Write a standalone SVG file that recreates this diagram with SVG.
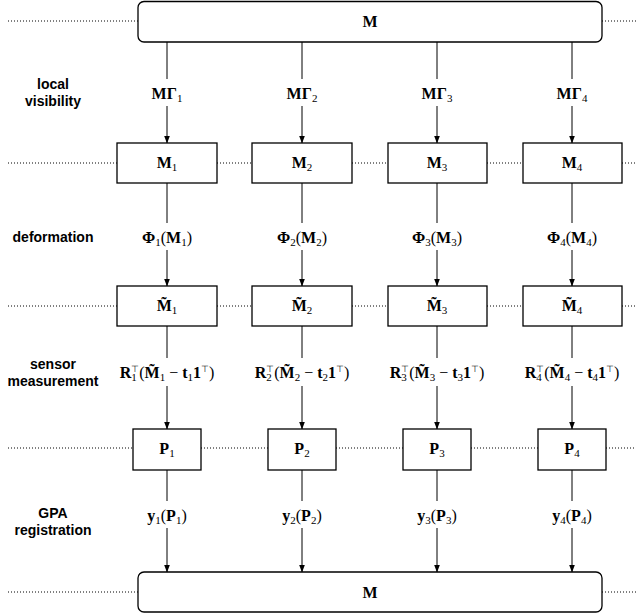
<svg xmlns="http://www.w3.org/2000/svg" width="636" height="616" viewBox="0 0 636 616">
<style>
.box{fill:#fff;stroke:#000;stroke-width:1.3}
.dot{stroke:#000;stroke-width:1;stroke-dasharray:1 2;fill:none}
.con{stroke:#000;stroke-width:1;fill:none;marker-end:url(#arr)}
.bg{fill:#fff}
.m{font-family:"Liberation Serif","Times New Roman",serif;font-size:16px;fill:#000;text-anchor:middle}
.b{font-weight:bold}
.s{font-size:11px}
.u{font-size:9px}
.lab{font-family:"Liberation Sans",Arial,sans-serif;font-size:14px;font-weight:bold;fill:#000;text-anchor:middle}
</style>
<defs>
<marker id="arr" viewBox="0 0 8 8" refX="7.5" refY="4" markerWidth="8" markerHeight="8" markerUnits="userSpaceOnUse" orient="auto">
<path d="M0,1 L8,4 L0,7 Z" fill="#000"/>
</marker>
</defs>

<g id="guides">
<line class="dot" x1="8" y1="21" x2="138" y2="21"/><line class="dot" x1="602" y1="21" x2="636" y2="21"/>
<line class="dot" x1="8" y1="163" x2="117" y2="163"/><line class="dot" x1="217" y1="163" x2="252" y2="163"/><line class="dot" x1="352" y1="163" x2="388" y2="163"/><line class="dot" x1="487" y1="163" x2="523" y2="163"/><line class="dot" x1="622" y1="163" x2="636" y2="163"/>
<line class="dot" x1="8" y1="306" x2="117" y2="306"/><line class="dot" x1="217" y1="306" x2="252" y2="306"/><line class="dot" x1="352" y1="306" x2="388" y2="306"/><line class="dot" x1="487" y1="306" x2="523" y2="306"/><line class="dot" x1="622" y1="306" x2="636" y2="306"/>
<line class="dot" x1="8" y1="448" x2="133" y2="448"/><line class="dot" x1="201" y1="448" x2="268" y2="448"/><line class="dot" x1="336" y1="448" x2="403" y2="448"/><line class="dot" x1="471" y1="448" x2="538" y2="448"/><line class="dot" x1="606" y1="448" x2="636" y2="448"/>
<line class="dot" x1="8" y1="592" x2="138" y2="592"/><line class="dot" x1="602" y1="592" x2="636" y2="592"/>
</g>

<g id="stage-labels">
<text class="lab" x="53" y="89">local</text><text class="lab" x="53" y="106">visibility</text>
<text class="lab" x="53" y="242">deformation</text>
<text class="lab" x="53" y="369">sensor</text><text class="lab" x="53" y="386">measurement</text>
<text class="lab" x="53" y="518">GPA</text><text class="lab" x="53" y="535">registration</text>
</g>

<g id="connectors">
<line class="con" x1="167" y1="42" x2="167" y2="143"/><line class="con" x1="302" y1="42" x2="302" y2="143"/><line class="con" x1="437" y1="42" x2="437" y2="143"/><line class="con" x1="572" y1="42" x2="572" y2="143"/>
<line class="con" x1="167" y1="183" x2="167" y2="286"/><line class="con" x1="302" y1="183" x2="302" y2="286"/><line class="con" x1="437" y1="183" x2="437" y2="286"/><line class="con" x1="572" y1="183" x2="572" y2="286"/>
<line class="con" x1="167" y1="326" x2="167" y2="429"/><line class="con" x1="302" y1="326" x2="302" y2="429"/><line class="con" x1="437" y1="326" x2="437" y2="429"/><line class="con" x1="572" y1="326" x2="572" y2="429"/>
<line class="con" x1="167" y1="470" x2="167" y2="572"/><line class="con" x1="302" y1="470" x2="302" y2="572"/><line class="con" x1="437" y1="470" x2="437" y2="572"/><line class="con" x1="572" y1="470" x2="572" y2="572"/>
</g>

<g id="connector-labels">
<rect class="bg" x="147" y="79" width="40" height="27"/><rect class="bg" x="282" y="79" width="40" height="27"/><rect class="bg" x="417" y="79" width="40" height="27"/><rect class="bg" x="552" y="79" width="40" height="27"/>
<text class="m" x="167" y="99"><tspan class="b">MΓ</tspan><tspan class="s" dy="3">1</tspan></text>
<text class="m" x="302" y="99"><tspan class="b">MΓ</tspan><tspan class="s" dy="3">2</tspan></text>
<text class="m" x="437" y="99"><tspan class="b">MΓ</tspan><tspan class="s" dy="3">3</tspan></text>
<text class="m" x="572" y="99"><tspan class="b">MΓ</tspan><tspan class="s" dy="3">4</tspan></text>

<rect class="bg" x="137" y="223" width="60" height="27"/><rect class="bg" x="272" y="223" width="60" height="27"/><rect class="bg" x="407" y="223" width="60" height="27"/><rect class="bg" x="542" y="223" width="60" height="27"/>
<text class="m" x="167" y="243"><tspan class="b">Φ</tspan><tspan class="s" dy="3">1</tspan><tspan dy="-3">(</tspan><tspan class="b">M</tspan><tspan class="s" dy="3">1</tspan><tspan dy="-3">)</tspan></text>
<text class="m" x="302" y="243"><tspan class="b">Φ</tspan><tspan class="s" dy="3">2</tspan><tspan dy="-3">(</tspan><tspan class="b">M</tspan><tspan class="s" dy="3">2</tspan><tspan dy="-3">)</tspan></text>
<text class="m" x="437" y="243"><tspan class="b">Φ</tspan><tspan class="s" dy="3">3</tspan><tspan dy="-3">(</tspan><tspan class="b">M</tspan><tspan class="s" dy="3">3</tspan><tspan dy="-3">)</tspan></text>
<text class="m" x="572" y="243"><tspan class="b">Φ</tspan><tspan class="s" dy="3">4</tspan><tspan dy="-3">(</tspan><tspan class="b">M</tspan><tspan class="s" dy="3">4</tspan><tspan dy="-3">)</tspan></text>

<rect class="bg" x="112" y="358" width="110" height="28"/><rect class="bg" x="247" y="358" width="110" height="28"/><rect class="bg" x="382" y="358" width="110" height="28"/><rect class="bg" x="517" y="358" width="110" height="28"/>
<text class="m" x="167" y="378"><tspan class="b">R</tspan><tspan class="s" dy="3">1</tspan><tspan class="u" dx="-5.5" dy="-9">⊤</tspan><tspan dy="6">(</tspan><tspan class="b">M̃</tspan><tspan class="s" dy="3">1</tspan><tspan dy="-3"> − </tspan><tspan class="b">t</tspan><tspan class="s" dy="3">1</tspan><tspan class="b" dy="-3">1</tspan><tspan class="u" dy="-6">⊤</tspan><tspan dy="6">)</tspan></text>
<text class="m" x="302" y="378"><tspan class="b">R</tspan><tspan class="s" dy="3">2</tspan><tspan class="u" dx="-5.5" dy="-9">⊤</tspan><tspan dy="6">(</tspan><tspan class="b">M̃</tspan><tspan class="s" dy="3">2</tspan><tspan dy="-3"> − </tspan><tspan class="b">t</tspan><tspan class="s" dy="3">2</tspan><tspan class="b" dy="-3">1</tspan><tspan class="u" dy="-6">⊤</tspan><tspan dy="6">)</tspan></text>
<text class="m" x="437" y="378"><tspan class="b">R</tspan><tspan class="s" dy="3">3</tspan><tspan class="u" dx="-5.5" dy="-9">⊤</tspan><tspan dy="6">(</tspan><tspan class="b">M̃</tspan><tspan class="s" dy="3">3</tspan><tspan dy="-3"> − </tspan><tspan class="b">t</tspan><tspan class="s" dy="3">3</tspan><tspan class="b" dy="-3">1</tspan><tspan class="u" dy="-6">⊤</tspan><tspan dy="6">)</tspan></text>
<text class="m" x="572" y="378"><tspan class="b">R</tspan><tspan class="s" dy="3">4</tspan><tspan class="u" dx="-5.5" dy="-9">⊤</tspan><tspan dy="6">(</tspan><tspan class="b">M̃</tspan><tspan class="s" dy="3">4</tspan><tspan dy="-3"> − </tspan><tspan class="b">t</tspan><tspan class="s" dy="3">4</tspan><tspan class="b" dy="-3">1</tspan><tspan class="u" dy="-6">⊤</tspan><tspan dy="6">)</tspan></text>

<rect class="bg" x="142" y="501" width="50" height="27"/><rect class="bg" x="277" y="501" width="50" height="27"/><rect class="bg" x="412" y="501" width="50" height="27"/><rect class="bg" x="547" y="501" width="50" height="27"/>
<text class="m" x="167" y="521"><tspan class="b">y</tspan><tspan class="s" dy="3">1</tspan><tspan dy="-3">(</tspan><tspan class="b">P</tspan><tspan class="s" dy="3">1</tspan><tspan dy="-3">)</tspan></text>
<text class="m" x="302" y="521"><tspan class="b">y</tspan><tspan class="s" dy="3">2</tspan><tspan dy="-3">(</tspan><tspan class="b">P</tspan><tspan class="s" dy="3">2</tspan><tspan dy="-3">)</tspan></text>
<text class="m" x="437" y="521"><tspan class="b">y</tspan><tspan class="s" dy="3">3</tspan><tspan dy="-3">(</tspan><tspan class="b">P</tspan><tspan class="s" dy="3">3</tspan><tspan dy="-3">)</tspan></text>
<text class="m" x="572" y="521"><tspan class="b">y</tspan><tspan class="s" dy="3">4</tspan><tspan dy="-3">(</tspan><tspan class="b">P</tspan><tspan class="s" dy="3">4</tspan><tspan dy="-3">)</tspan></text>
</g>

<g id="M-top"><rect class="box" x="138" y="1.5" width="464" height="40.5" rx="6"/><text class="m b" x="370" y="27">M</text></g>

<g id="M1"><rect class="box" x="117" y="143" width="100" height="40"/><text class="m" x="167" y="168"><tspan class="b">M</tspan><tspan class="s" dy="3">1</tspan></text></g>
<g id="M2"><rect class="box" x="252" y="143" width="100" height="40"/><text class="m" x="302" y="168"><tspan class="b">M</tspan><tspan class="s" dy="3">2</tspan></text></g>
<g id="M3"><rect class="box" x="388" y="143" width="99" height="40"/><text class="m" x="437" y="168"><tspan class="b">M</tspan><tspan class="s" dy="3">3</tspan></text></g>
<g id="M4"><rect class="box" x="523" y="143" width="99" height="40"/><text class="m" x="572" y="168"><tspan class="b">M</tspan><tspan class="s" dy="3">4</tspan></text></g>

<g id="Mt1"><rect class="box" x="117" y="286" width="100" height="40"/><text class="m" x="167" y="311"><tspan class="b">M̃</tspan><tspan class="s" dy="3">1</tspan></text></g>
<g id="Mt2"><rect class="box" x="252" y="286" width="100" height="40"/><text class="m" x="302" y="311"><tspan class="b">M̃</tspan><tspan class="s" dy="3">2</tspan></text></g>
<g id="Mt3"><rect class="box" x="388" y="286" width="99" height="40"/><text class="m" x="437" y="311"><tspan class="b">M̃</tspan><tspan class="s" dy="3">3</tspan></text></g>
<g id="Mt4"><rect class="box" x="523" y="286" width="99" height="40"/><text class="m" x="572" y="311"><tspan class="b">M̃</tspan><tspan class="s" dy="3">4</tspan></text></g>

<g id="P1"><rect class="box" x="133" y="429" width="68" height="41"/><text class="m" x="167" y="454"><tspan class="b">P</tspan><tspan class="s" dy="3">1</tspan></text></g>
<g id="P2"><rect class="box" x="268" y="429" width="68" height="41"/><text class="m" x="302" y="454"><tspan class="b">P</tspan><tspan class="s" dy="3">2</tspan></text></g>
<g id="P3"><rect class="box" x="403" y="429" width="68" height="41"/><text class="m" x="437" y="454"><tspan class="b">P</tspan><tspan class="s" dy="3">3</tspan></text></g>
<g id="P4"><rect class="box" x="538" y="429" width="68" height="41"/><text class="m" x="572" y="454"><tspan class="b">P</tspan><tspan class="s" dy="3">4</tspan></text></g>

<g id="M-bottom"><rect class="box" x="138" y="572" width="464" height="40" rx="6"/><text class="m b" x="370" y="598">M</text></g>
</svg>
